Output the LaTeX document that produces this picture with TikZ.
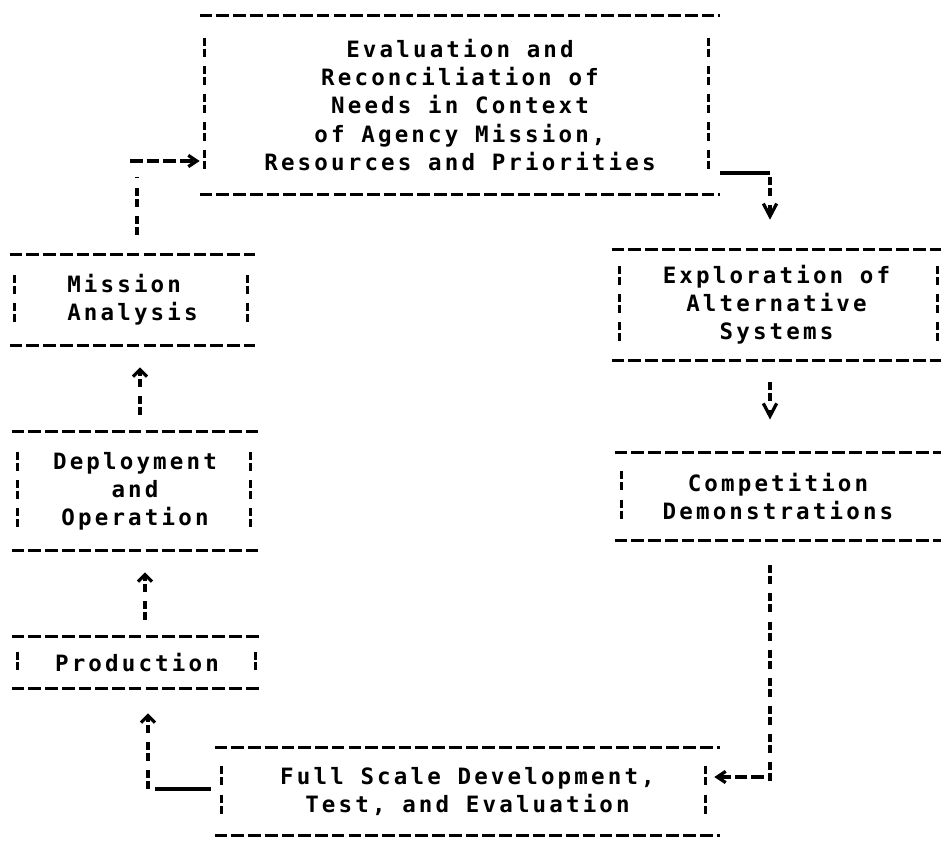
\documentclass[tikz,border=0pt]{standalone}
\usepackage{fontspec}
\newfontfamily\dotmono[LetterSpace=14]{DejaVu Sans Mono}
\usetikzlibrary{arrows.meta, calc}

\begin{document}
\begin{tikzpicture}[x=0.025cm, y=-0.025cm,
	box/.style={inner sep=0pt, align=center, font=\dotmono\bfseries\fontsize{16pt}{20pt}\selectfont},
	rule/.style={line width=2.3pt, dash pattern=on 9pt off 2.9pt},
	bar/.style={line width=2.3pt, dash pattern=on 5.7pt off 2.1pt on 5.7pt off 6.5pt},
	uline/.style={line width=2.3pt},
	up/.style={-{Straight Barb[length=5pt, width=10pt]}},
	down/.style={-{Straight Barb[length=9pt, width=9.5pt]}},
	side/.style={-{Straight Barb[length=6pt, width=8pt]}}]
			\useasboundingbox (0,0) rectangle (941,844);

			% The boxes
			\node[box, minimum width=13cm, minimum height=4.475cm] (eval) at (460,105)
				{Evaluation and\\Reconciliation of\\Needs in Context\\of Agency Mission,\\Resources and Priorities};
			\node[box, align=left, minimum width=6.125cm, minimum height=2.25cm] (mission) at (132.5,300)
				{Mission\\Analysis};
			\node[box, minimum width=6.15cm, minimum height=2.95cm] (deploy) at (135,491)
				{Deployment\\and\\Operation};
			\node[box, minimum width=6.25cm, minimum height=1.275cm] (prod) at (137,662.5)
				{Production};
			\node[box, minimum width=8.225cm, minimum height=2.75cm] (explore) at (776.5,305)
				{Exploration of\\Alternative\\Systems};
			\node[box, minimum width=8.15cm, minimum height=2.175cm] (compete) at (778,496.5)
				{Competition\\Demonstrations};
			\node[box, minimum width=12.625cm, minimum height=2.175cm] (fsd) at (467.5,791.5)
				{Full Scale Development,\\Test, and Evaluation};

			% Frame of each box: dashes on top and bottom, broken bars at the sides
			\draw[rule] (eval.north west) -- (eval.north east);
			\draw[rule] (eval.south west) -- (eval.south east);
			\draw[bar] ($(eval.west)+(5,-67.4)$) -- ($(eval.west)+(5,67.4)$);
			\draw[bar] ($(eval.east)+(-12,-67.4)$) -- ($(eval.east)+(-12,67.4)$);

			\draw[rule] (mission.north west) -- (mission.north east);
			\draw[rule] (mission.south west) -- (mission.south east);
			\draw[bar] ($(mission.west)+(5,-25.1)$) -- ($(mission.west)+(5,25.1)$);
			\draw[bar] ($(mission.east)+(-8,-25.1)$) -- ($(mission.east)+(-8,25.1)$);

			\draw[rule] (deploy.north west) -- (deploy.north east);
			\draw[rule] (deploy.south west) -- (deploy.south east);
			\draw[bar] ($(deploy.west)+(6,-39.2)$) -- ($(deploy.west)+(6,39.2)$);
			\draw[bar] ($(deploy.east)+(-8,-39.2)$) -- ($(deploy.east)+(-8,39.2)$);

			\draw[rule] (prod.north west) -- (prod.north east);
			\draw[rule] (prod.south west) -- (prod.south east);
			\draw[bar] ($(prod.west)+(6,-11)$) -- ($(prod.west)+(6,11)$);
			\draw[bar] ($(prod.east)+(-7,-11)$) -- ($(prod.east)+(-7,11)$);

			\draw[rule] (explore.north west) -- (explore.north east);
			\draw[rule] (explore.south west) -- (explore.south east);
			\draw[bar] ($(explore.west)+(8,-39.2)$) -- ($(explore.west)+(8,39.2)$);
			\draw[bar] ($(explore.east)+(-4,-39.2)$) -- ($(explore.east)+(-4,39.2)$);

			\draw[rule] (compete.north west) -- (compete.north east);
			\draw[rule] (compete.south west) -- (compete.south east);
			\draw[bar] ($(compete.west)+(7,-25.1)$) -- ($(compete.west)+(7,25.1)$);

			\draw[rule] (fsd.north west) -- (fsd.north east);
			\draw[rule] (fsd.south west) -- (fsd.south east);
			\draw[bar] ($(fsd.west)+(7,-25.1)$) -- ($(fsd.west)+(7,25.1)$);
			\draw[bar] ($(fsd.east)+(-15,-25.1)$) -- ($(fsd.east)+(-15,25.1)$);

			% Mission analysis back to the evaluation
			\coordinate (m2e) at (137,161);
			\draw[bar, shorten <=0.5cm, shorten >=0.4cm] (mission.north -| m2e) -- (m2e);
			\draw[rule, side, shorten <=-0.175cm] (m2e) -- (m2e -| eval.west);

			% Evaluation down to the exploration
			\coordinate (e2x) at (770,173);
			\draw[uline] (eval.east |- e2x) -- (e2x);
			\draw[bar, down, shorten <=0.1cm, shorten >=0.75cm] (e2x) -- (e2x |- explore.north);

			% Exploration down to the competition
			\draw[bar, down, shorten <=0.55cm, shorten >=0.83cm] (explore.south -| e2x) -- (compete.north -| e2x);

			% Competition round to the full scale development
			\coordinate (c2f) at (770,777);
			\draw[bar, shorten <=0.625cm, shorten >=-0.25cm] (compete.south -| c2f) -- (c2f);
			\draw[rule, side, shorten <=0.15cm, shorten >=-0.15cm] (c2f) -- (c2f -| fsd.east);

			% Full scale development round to the production
			\coordinate (f2p) at (148,789);
			\draw[uline, shorten <=0.1cm, shorten >=0.175cm] (fsd.west |- f2p) -- (f2p);
			\draw[bar, up, shorten >=0.625cm] (f2p) -- (f2p |- prod.south);

			% Production up to the deployment, deployment up to the mission analysis
			\draw[bar, up, shorten <=0.425cm, shorten >=0.55cm] ([xshift=0.2cm]prod.north) -- ([xshift=0.2cm]prod.north |- deploy.south);
			\draw[bar, up, shorten <=0.425cm, shorten >=0.55cm] ([xshift=0.125cm]deploy.north) -- ([xshift=0.125cm]deploy.north |- mission.south);

		\end{tikzpicture}
\end{document}
